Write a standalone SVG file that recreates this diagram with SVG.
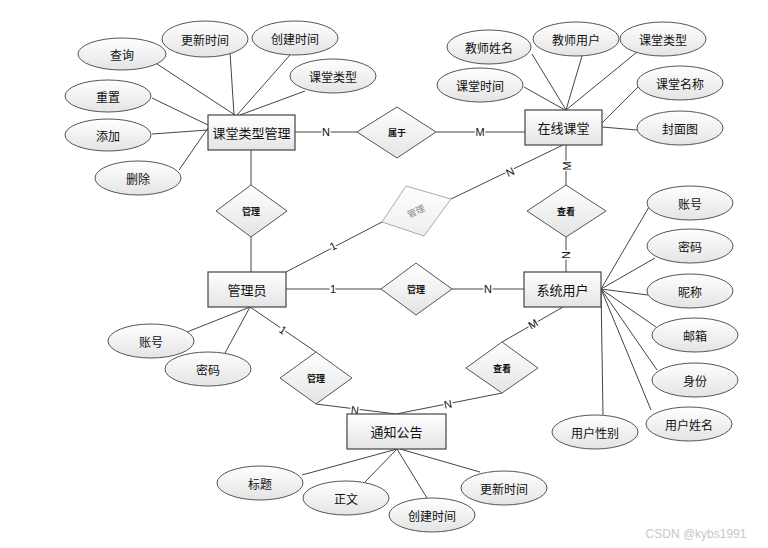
<svg xmlns="http://www.w3.org/2000/svg" width="768" height="548" viewBox="0 0 768 548">
<defs>
<linearGradient id="g" x1="0" y1="0" x2="0" y2="1">
<stop offset="0" stop-color="#ffffff"/>
<stop offset="1" stop-color="#e4e4e4"/>
</linearGradient>
<linearGradient id="gf" x1="0" y1="0" x2="0" y2="1">
<stop offset="0" stop-color="#ffffff"/>
<stop offset="1" stop-color="#eeeeee"/>
</linearGradient>
</defs>
<style>
.ent{fill:url(#g);stroke:#444;stroke-width:1.2}
.att{fill:url(#g);stroke:#555;stroke-width:1}
.rel{fill:url(#g);stroke:#555;stroke-width:1}
.ln{stroke:#444;stroke-width:1;fill:none}
text{font-family:"Noto Sans CJK SC","Liberation Sans",sans-serif;fill:#111;text-anchor:middle;dominant-baseline:central}
.t{font-size:12px}
.te{font-size:13px}
.tr{font-size:9px;font-weight:bold}
.c{font-family:"Liberation Sans",sans-serif;font-size:11px;stroke:#fff;stroke-width:3;paint-order:stroke}
</style>
<rect width="768" height="548" fill="#fff"/>
<g id="connectors">
<line class="ln" x1="295" y1="132" x2="357" y2="132"/>
<line class="ln" x1="436" y1="132" x2="525" y2="132"/>
<line class="ln" x1="251" y1="150" x2="251" y2="185"/>
<line class="ln" x1="251" y1="237" x2="251" y2="272"/>
<line class="ln" x1="286" y1="272" x2="382" y2="222"/>
<line class="ln" x1="451" y1="199" x2="563" y2="145"/>
<line class="ln" x1="566" y1="145" x2="566" y2="185"/>
<line class="ln" x1="566" y1="237" x2="566" y2="272"/>
<line class="ln" x1="286" y1="289" x2="381" y2="289"/>
<line class="ln" x1="452" y1="289" x2="524" y2="289"/>
<line class="ln" x1="250" y1="307" x2="316" y2="352"/>
<line class="ln" x1="316" y1="404" x2="396" y2="414"/>
<line class="ln" x1="563" y1="307" x2="502" y2="342"/>
<line class="ln" x1="502" y1="393" x2="396" y2="414"/>
<!-- 课堂类型管理 attributes -->
<line class="ln" x1="157" y1="64" x2="235" y2="115"/>
<line class="ln" x1="230" y1="52" x2="234" y2="115"/>
<line class="ln" x1="290" y1="55" x2="237" y2="115"/>
<line class="ln" x1="305" y1="91" x2="240" y2="115"/>
<line class="ln" x1="152" y1="98" x2="208" y2="125"/>
<line class="ln" x1="152" y1="134" x2="208" y2="130"/>
<line class="ln" x1="179" y1="170" x2="208" y2="128"/>
<!-- 在线课堂 attributes -->
<line class="ln" x1="532" y1="54" x2="566" y2="110"/>
<line class="ln" x1="582" y1="56" x2="566" y2="110"/>
<line class="ln" x1="637" y1="52" x2="566" y2="110"/>
<line class="ln" x1="524" y1="87" x2="565" y2="110"/>
<line class="ln" x1="638" y1="87" x2="602" y2="123"/>
<line class="ln" x1="602" y1="127" x2="637" y2="130"/>
<!-- 系统用户 attributes -->
<line class="ln" x1="649" y1="207" x2="601" y2="289"/>
<line class="ln" x1="655" y1="258" x2="601" y2="289"/>
<line class="ln" x1="648" y1="295" x2="601" y2="289"/>
<line class="ln" x1="656" y1="327" x2="601" y2="289"/>
<line class="ln" x1="657" y1="370" x2="601" y2="289"/>
<line class="ln" x1="651" y1="410" x2="601" y2="289"/>
<line class="ln" x1="601" y1="289" x2="603" y2="415"/>
<!-- 管理员 attributes -->
<line class="ln" x1="187" y1="332" x2="250" y2="307"/>
<line class="ln" x1="225" y1="353" x2="250" y2="307"/>
<!-- 通知公告 attributes -->
<line class="ln" x1="302" y1="475" x2="397" y2="449"/>
<line class="ln" x1="365" y1="482" x2="397" y2="449"/>
<line class="ln" x1="427" y1="498" x2="397" y2="449"/>
<line class="ln" x1="480" y1="472" x2="400" y2="449"/>
<!-- cardinalities -->
<text class="c" x="326" y="132">N</text>
<text class="c" x="480" y="132">M</text>
<text class="c" transform="translate(333,246) rotate(-27)">1</text>
<text class="c" transform="translate(510,172) rotate(-26)">N</text>
<text class="c" transform="translate(567,166) rotate(-90)">M</text>
<text class="c" transform="translate(566,255) rotate(-90)">N</text>
<text class="c" x="333" y="289">1</text>
<text class="c" x="488" y="289">N</text>
<text class="c" transform="translate(283,330) rotate(34)">1</text>
<text class="c" transform="translate(355,410) rotate(7)">N</text>
<text class="c" transform="translate(448,404) rotate(-11)">N</text>
<text class="c" transform="translate(533,324) rotate(-30)">M</text>
</g>
<g id="e-kctype"><rect class="ent" x="208" y="115" width="87" height="35"/><text class="te" x="251.5" y="132.5">课堂类型管理</text></g>
<g id="e-course"><rect class="ent" x="525" y="110" width="77" height="35"/><text class="te" x="563.5" y="127.5">在线课堂</text></g>
<g id="e-admin"><rect class="ent" x="208" y="272" width="78" height="35"/><text class="te" x="247" y="289.5">管理员</text></g>
<g id="e-user"><rect class="ent" x="524" y="272" width="77" height="35"/><text class="te" x="562.5" y="289.5">系统用户</text></g>
<g id="e-notice"><rect class="ent" x="347" y="414" width="99" height="35"/><text class="te" x="396.5" y="431.5">通知公告</text></g>
<g id="r-belong"><polygon class="rel" points="357,132 397,107 436,132 397,158"/><text class="tr" x="397" y="132">属于</text></g>
<g id="r-manage1"><polygon class="rel" points="216,211 251,185 287,211 251,237"/><text class="tr" x="251" y="211">管理</text></g>
<g id="r-manage-faded"><polygon points="382,222 406,186 451,199 424,236" fill="url(#gf)" stroke="#aaa" stroke-width="1"/><text class="tr" transform="translate(416,211) rotate(-25)" style="fill:#888;font-weight:normal">管理</text></g>
<g id="r-view1"><polygon class="rel" points="527,211 566,185 606,211 566,237"/><text class="tr" x="566" y="211">查看</text></g>
<g id="r-manage2"><polygon class="rel" points="381,289 416,263 452,289 416,315"/><text class="tr" x="416" y="289">管理</text></g>
<g id="r-manage3"><polygon class="rel" points="280,378 316,352 352,378 316,404"/><text class="tr" x="316" y="378">管理</text></g>
<g id="r-view2"><polygon class="rel" points="466,368 502,342 538,368 502,393"/><text class="tr" x="502" y="368">查看</text></g>
<g id="a-query"><ellipse class="att" cx="122" cy="54" rx="44" ry="16"/><text class="t" x="122" y="54">查询</text></g>
<g id="a-upd1"><ellipse class="att" cx="205" cy="39" rx="43" ry="18"/><text class="t" x="205" y="39">更新时间</text></g>
<g id="a-cre1"><ellipse class="att" cx="295" cy="38" rx="43" ry="17"/><text class="t" x="295" y="38">创建时间</text></g>
<g id="a-type1"><ellipse class="att" cx="333" cy="76" rx="43" ry="17"/><text class="t" x="333" y="76">课堂类型</text></g>
<g id="a-reset"><ellipse class="att" cx="108" cy="96" rx="43" ry="16"/><text class="t" x="108" y="96">重置</text></g>
<g id="a-add"><ellipse class="att" cx="108" cy="135" rx="43" ry="16"/><text class="t" x="108" y="135">添加</text></g>
<g id="a-del"><ellipse class="att" cx="138" cy="178" rx="43" ry="17"/><text class="t" x="138" y="178">删除</text></g>
<g id="a-tname"><ellipse class="att" cx="489" cy="47" rx="42" ry="17"/><text class="t" x="489" y="47">教师姓名</text></g>
<g id="a-tuser"><ellipse class="att" cx="576" cy="39" rx="43" ry="17"/><text class="t" x="576" y="39">教师用户</text></g>
<g id="a-type2"><ellipse class="att" cx="663" cy="39" rx="43" ry="17"/><text class="t" x="663" y="39">课堂类型</text></g>
<g id="a-ctime"><ellipse class="att" cx="480" cy="85" rx="43" ry="17"/><text class="t" x="480" y="85">课堂时间</text></g>
<g id="a-cname"><ellipse class="att" cx="680" cy="83" rx="43" ry="17"/><text class="t" x="680" y="83">课堂名称</text></g>
<g id="a-cover"><ellipse class="att" cx="680" cy="128" rx="43" ry="17"/><text class="t" x="680" y="128">封面图</text></g>
<g id="a-uacc"><ellipse class="att" cx="690" cy="203" rx="43" ry="17"/><text class="t" x="690" y="203">账号</text></g>
<g id="a-upwd"><ellipse class="att" cx="690" cy="246" rx="43" ry="17"/><text class="t" x="690" y="246">密码</text></g>
<g id="a-nick"><ellipse class="att" cx="690" cy="291" rx="43" ry="17"/><text class="t" x="690" y="291">昵称</text></g>
<g id="a-mail"><ellipse class="att" cx="695" cy="335" rx="43" ry="17"/><text class="t" x="695" y="335">邮箱</text></g>
<g id="a-role"><ellipse class="att" cx="695" cy="380" rx="43" ry="17"/><text class="t" x="695" y="380">身份</text></g>
<g id="a-uname"><ellipse class="att" cx="689" cy="424" rx="43" ry="17"/><text class="t" x="689" y="424">用户姓名</text></g>
<g id="a-usex"><ellipse class="att" cx="595" cy="432" rx="43" ry="17"/><text class="t" x="595" y="432">用户性别</text></g>
<g id="a-aacc"><ellipse class="att" cx="151" cy="341" rx="43" ry="17"/><text class="t" x="151" y="341">账号</text></g>
<g id="a-apwd"><ellipse class="att" cx="208" cy="369" rx="43" ry="17"/><text class="t" x="208" y="369">密码</text></g>
<g id="a-title"><ellipse class="att" cx="260" cy="483" rx="43" ry="17"/><text class="t" x="260" y="483">标题</text></g>
<g id="a-body"><ellipse class="att" cx="346" cy="498" rx="43" ry="17"/><text class="t" x="346" y="498">正文</text></g>
<g id="a-cre2"><ellipse class="att" cx="432" cy="515" rx="43" ry="17"/><text class="t" x="432" y="515">创建时间</text></g>
<g id="a-upd2"><ellipse class="att" cx="504" cy="488" rx="43" ry="17"/><text class="t" x="504" y="488">更新时间</text></g>
<text x="696" y="534" style="font-family:'Liberation Sans',sans-serif;font-size:12px;fill:#c8c8c8">CSDN @kybs1991</text>
</svg>
